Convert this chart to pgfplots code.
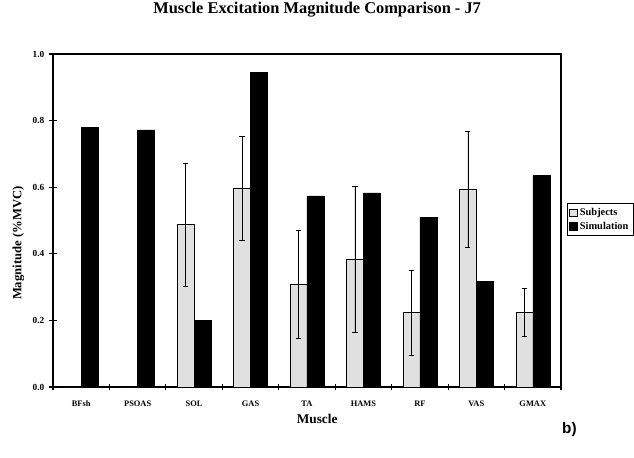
\documentclass[border=0pt]{standalone}
\usepackage{pgfplots}
\pgfplotsset{compat=1.18}
\usepackage{fontspec}
\setmainfont{Liberation Serif}
\newfontfamily\bsans{Liberation Sans}
\begin{document}
\begin{tikzpicture}
\useasboundingbox (-39.75pt,-52.5pt) rectangle (435.75pt,290.25pt);
\begin{axis}[
  at={(0,0)}, anchor=south west,
  scale only axis, width=381pt, height=249.75pt,
  ybar=0pt, bar width=12.75pt,
  xmin=-0.5, xmax=8.5, ymin=0, ymax=1,
  xtick={0,...,8},
  xticklabels={BFsh,PSOAS,SOL,GAS,TA,HAMS,RF,VAS,GMAX},
  major x tick style={draw=none},
  minor xtick={-0.5,0.5,...,8.5},
  xtick pos=bottom, ytick pos=left,
  ytick={0,0.2,...,1.0},
  yticklabel style={/pgf/number format/fixed,/pgf/number format/fixed zerofill,/pgf/number format/precision=1},
  /pgf/number format/assume math mode=true,
  tick align=center,
  major tick length=6pt, minor tick length=5pt,
  every tick/.style={black, line width=0.8pt},
  axis line style={line width=1pt},
  x tick label style={font=\bfseries\fontsize{6.3}{7}\selectfont, yshift=-4pt},
  y tick label style={font=\bfseries\fontsize{7}{8}\selectfont},
  title={Muscle Excitation Magnitude Comparison - J7},
  title style={font=\bfseries\fontsize{12.3}{14}\selectfont, at={(rel axis cs:0.52,1)}, anchor=base, yshift=24pt},
  xlabel={Muscle},
  xlabel style={font=\bfseries\fontsize{10}{12}\selectfont, at={(rel axis cs:0.52,0)}, anchor=base, yshift=-27pt},
  ylabel={Magnitude (\%MVC)},
  ylabel style={font=\bfseries\fontsize{9.5}{11}\selectfont, at={([xshift=-26pt]rel axis cs:0,0.432)}, anchor=center},
  legend style={at={(1.011,0.553)}, anchor=north west, font=\bfseries\fontsize{7.8}{9}\selectfont, draw=black, line width=0.8pt, inner sep=1.5pt, row sep=-0.5pt, legend cell align=left},
  legend image code/.code={\draw[#1, line width=0.4pt] (0cm,-0.1cm) rectangle (0.2cm,0.1cm);},
  clip=false,
]
\addplot[draw=black, line width=0.4pt, fill=black!12,
  error bars/.cd, y dir=both, y explicit,
  error bar style={line width=0.4pt, black},
  error mark options={rotate=90, mark size=2pt, line width=0.4pt}]
coordinates {
 (0,0) (1,0)
 (2,0.488) +- (0,0.185)
 (3,0.597) +- (0,0.157)
 (4,0.309) +- (0,0.163)
 (5,0.384) +- (0,0.220)
 (6,0.223) +- (0,0.128)
 (7,0.594) +- (0,0.174)
 (8,0.225) +- (0,0.072)
};
\addlegendentry{Subjects}
\addplot[draw=black, fill=black] coordinates {
 (0,0.779) (1,0.772) (2,0.201) (3,0.945) (4,0.574) (5,0.583) (6,0.510) (7,0.318) (8,0.635)
};
\addlegendentry{Simulation}
\node[font=\bsans\bfseries\fontsize{11.5}{13}\selectfont, anchor=base west] at (rel axis cs:0.993,-0.14) {b)};
\end{axis}
\end{tikzpicture}
\end{document}
